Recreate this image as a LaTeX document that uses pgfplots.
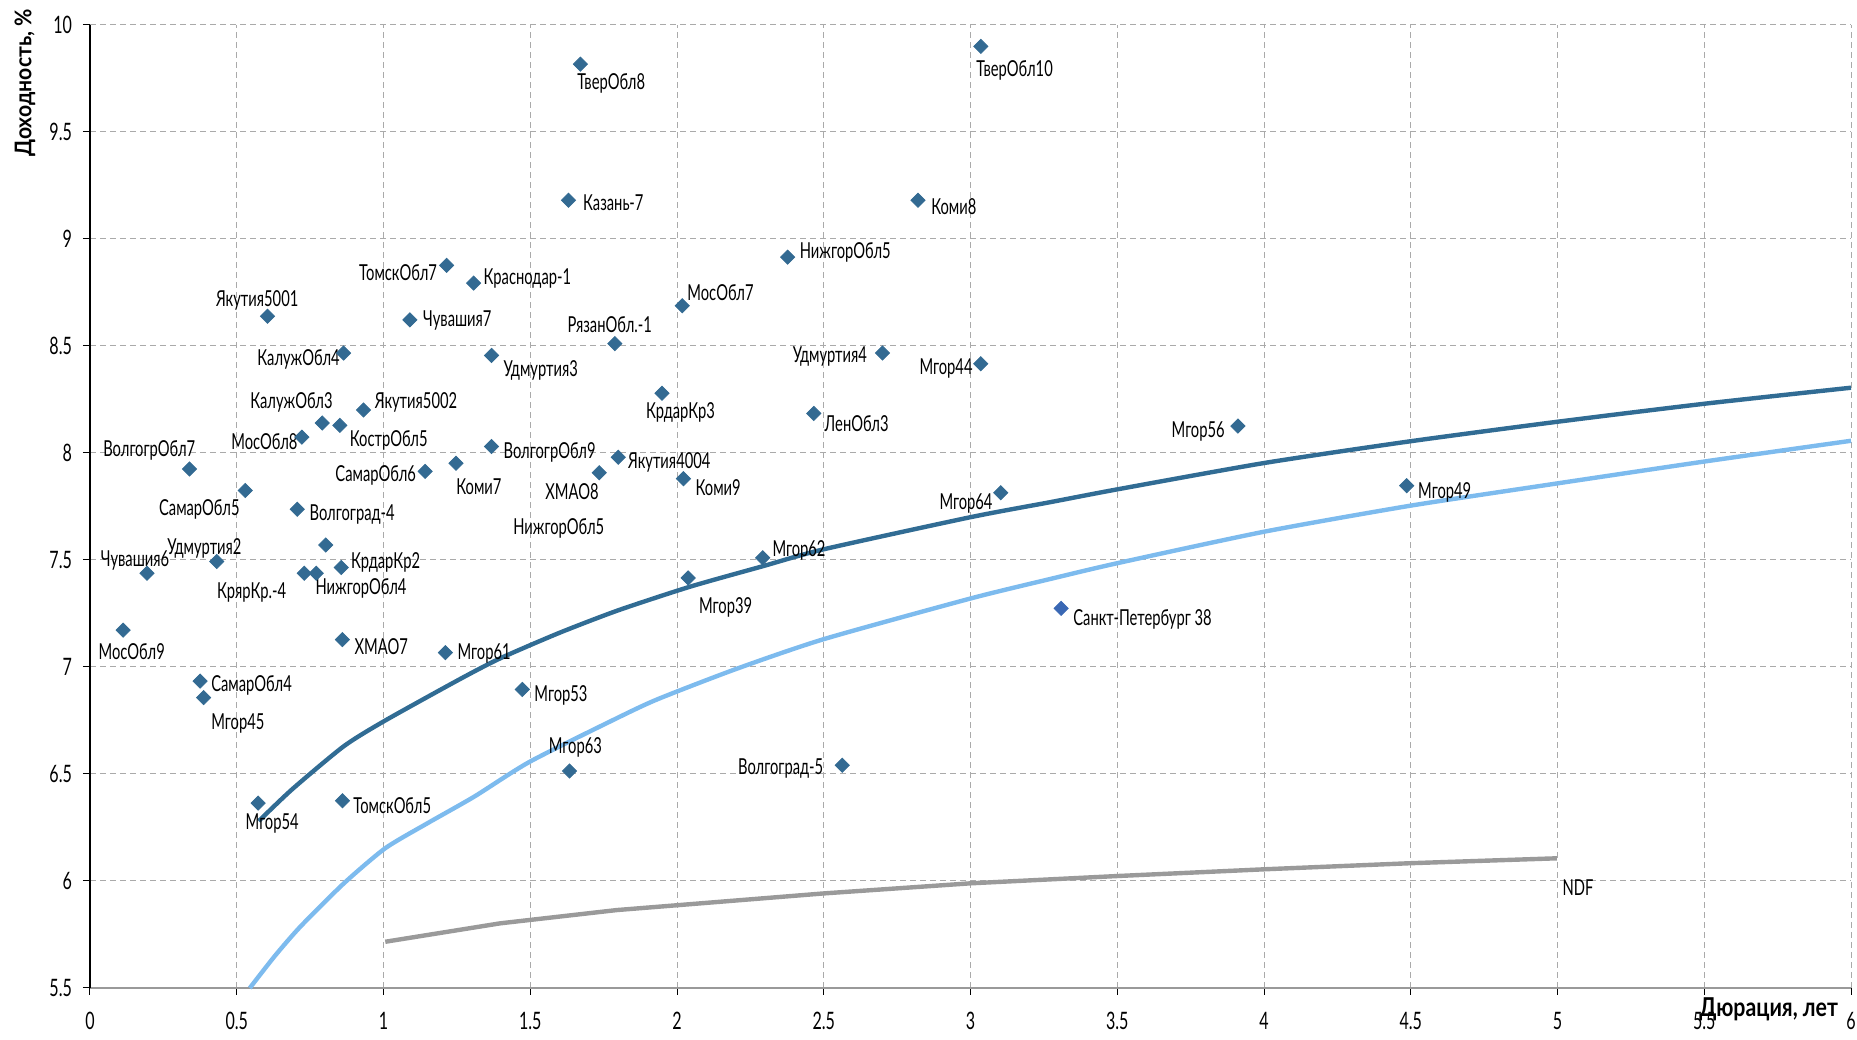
\documentclass[border=0pt]{standalone}
\usepackage{fontspec}
\setmainfont{Lato}[FakeStretch=0.67]
\newfontfamily\xlfont{Lato}[FakeStretch=0.82]
\newfontfamily\ylfont{Lato}[FakeStretch=0.92]
\usepackage{pgfplots}
\pgfplotsset{compat=1.18}
\definecolor{mk}{HTML}{336A92}
\definecolor{spb}{HTML}{3A68B4}
\definecolor{dcurve}{HTML}{316C94}
\definecolor{lcurve}{HTML}{7DBBEE}
\definecolor{ndf}{HTML}{9A9A9A}
\definecolor{gridc}{HTML}{AAAAAA}
\pgfplotstableread{
x y
1.671 9.817
3.035 9.900
1.630 9.181
2.821 9.181
2.377 8.915
1.215 8.877
1.307 8.794
2.018 8.688
0.605 8.639
1.090 8.622
1.788 8.511
0.864 8.467
1.368 8.456
2.700 8.467
3.035 8.417
1.949 8.279
0.932 8.201
2.466 8.185
0.791 8.140
0.851 8.129
3.911 8.126
0.722 8.074
1.368 8.030
1.800 7.980
1.247 7.952
0.339 7.925
1.142 7.914
1.735 7.908
2.022 7.880
0.529 7.825
4.486 7.847
3.103 7.814
0.706 7.737
0.803 7.570
0.432 7.493
0.194 7.438
0.730 7.438
0.771 7.438
0.856 7.465
2.292 7.510
2.038 7.416
0.113 7.172
0.860 7.128
1.211 7.067
0.375 6.934
0.387 6.857
1.473 6.895
1.634 6.514
2.563 6.541
0.573 6.364
0.860 6.375
}\pts
\pgfplotstableread{
x y
0.575 6.28
0.69 6.43
0.865 6.63
1.006 6.75
1.256 6.94
1.397 7.04
1.6 7.16
1.8 7.265
2.044 7.375
2.29 7.47
2.5 7.55
3.0 7.70
3.271 7.77
3.5 7.83
4.0 7.953
4.5 8.055
5.0 8.146
5.5 8.23
6.0 8.305
}\dark
\pgfplotstableread{
x y
0.5445 5.5
0.63 5.65
0.717 5.787
0.865 5.989
1.006 6.153
1.15 6.27
1.309 6.394
1.498 6.557
1.794 6.76
1.935 6.85
2.2 6.99
2.5 7.13
3.0 7.32
3.271 7.411
3.5 7.485
4.0 7.632
4.5 7.754
5.0 7.858
5.5 7.96
6.0 8.057
}\light
\pgfplotstableread{
x y
1.006 5.716
1.397 5.802
1.794 5.864
2.003 5.887
2.501 5.942
2.999 5.989
3.498 6.023
4.007 6.055
4.497 6.083
4.998 6.106
}\ndfc
\begin{document}
\begin{tikzpicture}[font=\fontsize{11}{13}\selectfont]
\begin{axis}[
  scale only axis,
  width=880.5pt, height=481.5pt,
  xmin=0, xmax=6, ymin=5.5, ymax=10,
  xtick={0,0.5,...,6}, ytick={5.5,6,...,10},
  xticklabels={0,0.5,1,1.5,2,2.5,3,3.5,4,4.5,5,5.5,6},
  yticklabels={5.5,6,6.5,7,7.5,8,8.5,9,9.5,10},
  axis x line*=bottom, axis y line*=left,
  x axis line style={draw=gray!80, line width=0.8pt, -},
  y axis line style={draw=black, line width=0.6pt, -},
  tick align=outside, major tick length=3.5pt,
  every tick/.style={black, line width=0.5pt},
  grid=major,
  major grid style={draw=gridc, dash pattern=on 3pt off 2pt, line width=0.5pt},
  xticklabel style={yshift=-5pt, font=\fontsize{12}{14}\selectfont},
  yticklabel style={xshift=-2pt, font=\fontsize{12}{14}\selectfont},
  /pgf/number format/assume math mode=true,
  ylabel={\ylfont\bfseries Доходность, \%},
  ylabel style={at={(axis description cs:-0.037,0.940)}, anchor=center, font=\fontsize{11.5}{13}\selectfont},
  xlabel={\xlfont\bfseries Дюрация, лет},
  xlabel style={at={(axis description cs:0.9966,-0.022)}, anchor=east, font=\fontsize{13}{15}\selectfont},
  clip=false,
]
\addplot[ndf, line width=2.2pt, no marks] table {\ndfc};
\addplot[lcurve, line width=2.2pt, no marks, smooth, tension=0.4] table {\light};
\addplot[dcurve, line width=2.2pt, no marks, smooth, tension=0.4] table {\dark};
\addplot[only marks, mark=square*, mark size=2.5pt, mark options={rotate=45, fill=mk, draw=mk}] table {\pts};
\addplot[only marks, mark=square*, mark size=2.5pt, mark options={rotate=45, fill=spb, draw=spb}] coordinates {(3.309,7.274)};
\tikzset{lbl/.style={anchor=west, inner sep=0pt}}
\node[lbl] at (axis cs:1.659,9.729) {ТверОбл8};
\node[lbl] at (axis cs:3.019,9.79) {ТверОбл10};
\node[lbl] at (axis cs:1.679,9.17) {Казань-7};
\node[lbl] at (axis cs:2.865,9.153) {Коми8};
\node[lbl] at (axis cs:2.417,8.937) {НижгорОбл5};
\node[lbl] at (axis cs:0.916,8.843) {ТомскОбл7};
\node[lbl] at (axis cs:1.340,8.816) {Краснодар-1};
\node[lbl] at (axis cs:2.034,8.749) {МосОбл7};
\node[lbl] at (axis cs:0.428,8.711) {Якутия5001};
\node[lbl] at (axis cs:1.134,8.617) {Чувашия7};
\node[lbl] at (axis cs:1.626,8.60) {РязанОбл.-1};
\node[lbl] at (axis cs:0.569,8.439) {КалужОбл4};
\node[lbl] at (axis cs:1.408,8.384) {Удмуртия3};
\node[lbl] at (axis cs:2.393,8.45) {Удмуртия4};
\node[lbl] at (axis cs:2.825,8.395) {Мгор44};
\node[lbl] at (axis cs:1.893,8.19) {КрдарКр3};
\node[lbl] at (axis cs:0.969,8.235) {Якутия5002};
\node[lbl] at (axis cs:2.502,8.135) {ЛенОбл3};
\node[lbl] at (axis cs:0.545,8.235) {КалужОбл3};
\node[lbl] at (axis cs:0.884,8.058) {КострОбл5};
\node[lbl] at (axis cs:3.684,8.10) {Мгор56};
\node[lbl] at (axis cs:0.480,8.052) {МосОбл8};
\node[lbl] at (axis cs:1.408,8.002) {ВолгогрОбл9};
\node[lbl] at (axis cs:1.832,7.958) {Якутия4004};
\node[lbl] at (axis cs:1.247,7.842) {Коми7};
\node[lbl] at (axis cs:0.044,8.013) {ВолгогрОбл7};
\node[lbl] at (axis cs:0.835,7.897) {СамарОбл6};
\node[lbl] at (axis cs:1.550,7.82) {ХМАО8};
\node[lbl] at (axis cs:2.062,7.836) {Коми9};
\node[lbl] at (axis cs:0.234,7.737) {СамарОбл5};
\node[lbl] at (axis cs:1.441,7.648) {НижгорОбл5};
\node[lbl] at (axis cs:4.524,7.814) {Мгор49};
\node[lbl] at (axis cs:2.893,7.764) {Мгор64};
\node[lbl] at (axis cs:0.747,7.714) {Волгоград-4};
\node[lbl] at (axis cs:0.262,7.554) {Удмуртия2};
\node[lbl] at (axis cs:0.036,7.499) {Чувашия6};
\node[lbl] at (axis cs:0.888,7.488) {КрдарКр2};
\node[lbl] at (axis cs:0.432,7.349) {КрярКр.-4};
\node[lbl] at (axis cs:0.767,7.366) {НижгорОбл4};
\node[lbl] at (axis cs:2.324,7.543) {Мгор62};
\node[lbl] at (axis cs:2.074,7.277) {Мгор39};
\node[lbl] at (axis cs:0.028,7.072) {МосОбл9};
\node[lbl] at (axis cs:3.349,7.222) {Санкт-Петербург 38};
\node[lbl] at (axis cs:0.90,7.095) {ХМАО7};
\node[lbl] at (axis cs:1.251,7.061) {Мгор61};
\node[lbl] at (axis cs:0.412,6.912) {СамарОбл4};
\node[lbl] at (axis cs:0.412,6.735) {Мгор45};
\node[lbl] at (axis cs:1.513,6.868) {Мгор53};
\node[lbl] at (axis cs:1.562,6.624) {Мгор63};
\node[lbl] at (axis cs:2.207,6.525) {Волгоград-5};
\node[lbl] at (axis cs:0.529,6.27) {Мгор54};
\node[lbl] at (axis cs:0.896,6.353) {ТомскОбл5};
\node[lbl] at (axis cs:5.016,5.971) {NDF};
\end{axis}
\pgfresetboundingbox
\path[use as bounding box] ([xshift=-45pt,yshift=-26pt]current axis.south west) rectangle ([xshift=3pt,yshift=12.5pt]current axis.north east);
\end{tikzpicture}
\end{document}
